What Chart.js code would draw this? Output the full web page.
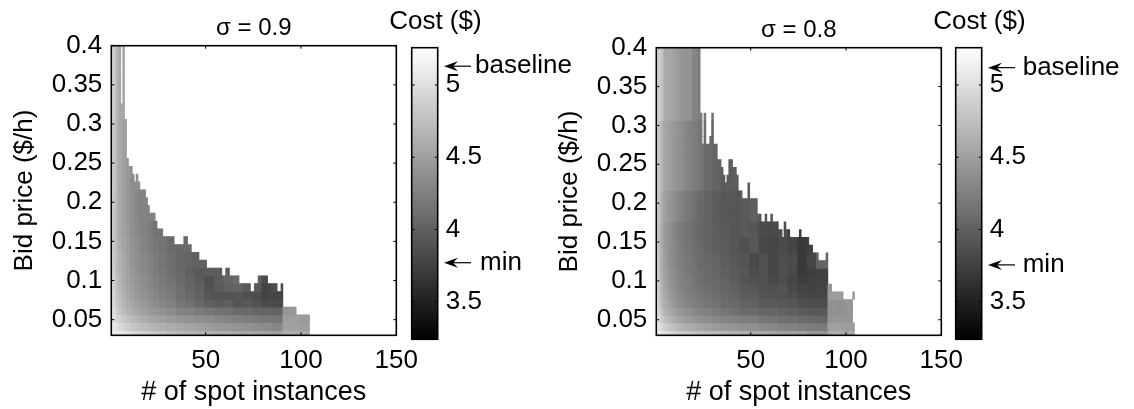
<!DOCTYPE html>
<html>
<head>
<meta charset="utf-8">
<title>Cost heatmaps</title>
<script src="https://cdn.jsdelivr.net/npm/chart.js@4"></script>
<style>
    html, body { margin: 0; padding: 0; background: #fff; overflow: hidden; }
    #page { position: relative; width: 1134px; height: 409px; overflow: hidden; }
    canvas { position: absolute; }
</style>
</head>
<body>
<div id="page">
    <canvas id="heatA"></canvas>
    <canvas id="heatB"></canvas>
    <canvas id="barA"></canvas>
    <canvas id="barB"></canvas>
</div>
<script>
// Axis ticks
const spotTicks = [50, 100, 150];
const bidTicks = [0.05, 0.1, 0.15, 0.2, 0.25, 0.3, 0.35, 0.4];
const costTicks = [3.5, 4, 4.5, 5];
const costRange = [3.24, 5.258];

// Bid price of each heatmap row ($/h)
const bidRows = [0.03, 0.04, 0.05, 0.06, 0.07, 0.08, 0.09, 0.1, 0.11, 0.12, 0.13, 0.14, 0.15, 0.16, 0.17, 0.18, 0.19, 0.2, 0.21,
    0.22, 0.23, 0.24, 0.25, 0.26, 0.27, 0.28, 0.29, 0.3, 0.31, 0.32, 0.33, 0.34, 0.35, 0.36, 0.37, 0.38, 0.39, 0.4];

// Highest bid with a finite cost, for 1, 2, 3... spot instances
const topsA = [0.4, 0.4, 0.4, 0.4, 0.4, 0.32, 0.4, 0.3, 0.25, 0.24, 0.24, 0.23, 0.22, 0.23, 0.22, 0.21, 0.21, 0.21, 0.2, 0.19,
    0.18, 0.18, 0.18, 0.17, 0.16, 0.16, 0.16, 0.15, 0.15, 0.15, 0.15, 0.15, 0.15, 0.14, 0.14, 0.14, 0.14, 0.14, 0.15, 0.15,
    0.14, 0.14, 0.13, 0.13, 0.13, 0.13, 0.12, 0.12, 0.12, 0.12, 0.11, 0.11, 0.11, 0.11, 0.11, 0.11, 0.11, 0.11, 0.1, 0.1,
    0.11, 0.11, 0.1, 0.1, 0.1, 0.1, 0.1, 0.09, 0.09, 0.09, 0.09, 0.09, 0.09, 0.08, 0.08, 0.09, 0.09, 0.1, 0.1, 0.1,
    0.1, 0.1, 0.09, 0.09, 0.09, 0.09, 0.09, 0.08, 0.08, 0.09, 0.06, 0.06, 0.06, 0.06, 0.06, 0.06, 0.06, 0.05, 0.05, 0.05,
    0.05, 0.05, 0.05, 0.05];
const topsB = [0.4, 0.4, 0.4, 0.4, 0.4, 0.4, 0.4, 0.4, 0.4, 0.4, 0.4, 0.4, 0.4, 0.4, 0.4, 0.4, 0.4, 0.4, 0.4, 0.4,
    0.4, 0.4, 0.4, 0.31, 0.27, 0.31, 0.27, 0.27, 0.28, 0.31, 0.27, 0.27, 0.25, 0.25, 0.24, 0.23, 0.22, 0.23, 0.25, 0.25,
    0.24, 0.24, 0.23, 0.21, 0.21, 0.2, 0.2, 0.2, 0.22, 0.2, 0.2, 0.2, 0.2, 0.18, 0.18, 0.17, 0.17, 0.18, 0.17, 0.17,
    0.18, 0.17, 0.17, 0.17, 0.16, 0.16, 0.15, 0.17, 0.16, 0.16, 0.15, 0.15, 0.15, 0.15, 0.15, 0.16, 0.15, 0.15, 0.15, 0.15,
    0.14, 0.14, 0.13, 0.13, 0.13, 0.12, 0.12, 0.12, 0.12, 0.13, 0.09, 0.09, 0.08, 0.08, 0.08, 0.08, 0.08, 0.08, 0.07, 0.07,
    0.07, 0.07, 0.07, 0.08];
// [instances, bid] cells that are missing below the top
const holesB = [[104, 0.05], [104, 0.06], [104, 0.07]];

// Cost table: each row starts at a bid, each column at a number of instances
const costColumns = [1, 2, 3, 4, 5, 7, 9, 11, 13, 15, 17, 20, 23, 26, 30, 35, 40, 45, 50, 55, 60, 65, 70, 75, 80, 85, 91, 95, 100];
const costRowBids = [0.03, 0.04, 0.05, 0.06, 0.07, 0.08, 0.09, 0.1, 0.11, 0.12, 0.14, 0.16, 0.18, 0.22, 0.31];
const costsA = [
    [5.14, 5.12, 5.11, 5.09, 5.08, 5.04, 5.01, 4.98, 4.95, 4.92, 4.89, 4.85, 4.82, 4.79, 4.74, 4.71, 4.68, 4.66, 4.65, 4.62, 4.60, 4.58, 4.57, 4.54, 4.52, 4.49, 4.62, 4.62, 4.60],
    [5.12, 5.08, 5.03, 5.00, 4.96, 4.92, 4.87, 4.82, 4.79, 4.76, 4.73, 4.70, 4.66, 4.63, 4.60, 4.57, 4.54, 4.51, 4.47, 4.44, 4.43, 4.41, 4.39, 4.36, 4.33, 4.31, 4.51, 4.51, 4.49],
    [5.10, 5.03, 4.96, 4.92, 4.87, 4.81, 4.76, 4.71, 4.68, 4.65, 4.62, 4.57, 4.54, 4.51, 4.46, 4.43, 4.39, 4.36, 4.35, 4.31, 4.27, 4.25, 4.23, 4.21, 4.19, 4.17, 4.49, 4.49, 4.47],
    [5.08, 5.00, 4.92, 4.85, 4.79, 4.73, 4.66, 4.62, 4.57, 4.54, 4.51, 4.46, 4.43, 4.39, 4.35, 4.28, 4.25, 4.21, 4.17, 4.15, 4.13, 4.09, 4.07, 4.05, 4.03, 4.02, 4.43, 4.43, 4.43],
    [5.06, 4.96, 4.87, 4.81, 4.74, 4.66, 4.60, 4.55, 4.51, 4.47, 4.44, 4.39, 4.35, 4.31, 4.25, 4.19, 4.13, 4.07, 3.99, 3.97, 3.99, 3.91, 3.94, 3.90, 3.83, 3.83],
    [5.04, 4.93, 4.84, 4.77, 4.71, 4.63, 4.57, 4.51, 4.47, 4.43, 4.39, 4.35, 4.30, 4.25, 4.21, 4.13, 4.07, 4.02, 3.91, 3.91, 3.89, 3.91, 3.87, 3.86, 3.78, 3.79],
    [5.03, 4.92, 4.82, 4.74, 4.68, 4.60, 4.54, 4.49, 4.44, 4.41, 4.36, 4.32, 4.27, 4.23, 4.17, 4.11, 4.03, 3.99, 3.87, 3.95, 3.99, 4.03, 3.95, 3.95, 3.79, 3.83],
    [5.02, 4.90, 4.81, 4.73, 4.66, 4.58, 4.52, 4.47, 4.43, 4.39, 4.35, 4.30, 4.25, 4.21, 4.15, 4.09, 4.02, 3.97, 3.86, 3.97, 4.03, 4.09, 4.03, 3.99, 3.83],
    [5.00, 4.89, 4.79, 4.71, 4.65, 4.57, 4.51, 4.44, 4.41, 4.36, 4.33, 4.28, 4.24, 4.19, 4.13, 4.07, 3.99, 3.95, 3.97],
    [5.00, 4.87, 4.77, 4.70, 4.63, 4.55, 4.49, 4.43, 4.39, 4.35, 4.32, 4.27, 4.22, 4.17, 4.11, 4.06, 4.02],
    [4.98, 4.85, 4.76, 4.68, 4.60, 4.52, 4.47, 4.41, 4.38, 4.33, 4.28, 4.24, 4.19, 4.16, 4.09, 4.06],
    [4.96, 4.84, 4.74, 4.66, 4.58, 4.51, 4.44, 4.39, 4.35, 4.30, 4.27, 4.21, 4.15],
    [4.96, 4.84, 4.73, 4.65, 4.57, 4.49, 4.43, 4.38, 4.33, 4.28],
    [4.96, 4.85, 4.74, 4.65, 4.57, 4.49, 4.43, 4.36],
    [4.98, 4.89, 4.76, 4.66, 4.57]
];
const costsB = [
    [5.14, 5.11, 5.08, 5.04, 5.01, 4.96, 4.92, 4.89, 4.85, 4.82, 4.81, 4.77, 4.74, 4.71, 4.70, 4.68, 4.66, 4.63, 4.58, 4.57, 4.54, 4.52, 4.51, 4.49, 4.44, 4.41, 4.60, 4.60, 4.58],
    [5.12, 5.04, 4.98, 4.92, 4.87, 4.79, 4.74, 4.71, 4.66, 4.63, 4.60, 4.57, 4.54, 4.51, 4.47, 4.44, 4.41, 4.39, 4.36, 4.33, 4.31, 4.28, 4.27, 4.25, 4.22, 4.21, 4.51, 4.51, 4.49],
    [5.10, 5.00, 4.90, 4.82, 4.76, 4.68, 4.62, 4.57, 4.52, 4.49, 4.46, 4.41, 4.38, 4.35, 4.32, 4.28, 4.25, 4.22, 4.21, 4.17, 4.15, 4.13, 4.11, 4.09, 4.06, 4.05, 4.43, 4.43, 4.43],
    [5.08, 4.95, 4.84, 4.74, 4.66, 4.58, 4.52, 4.47, 4.43, 4.39, 4.36, 4.32, 4.28, 4.25, 4.22, 4.17, 4.13, 4.09, 4.07, 4.05, 4.03, 4.02, 3.99, 3.97, 3.94, 3.94, 4.39, 4.39, 4.41],
    [5.08, 4.90, 4.77, 4.68, 4.60, 4.52, 4.44, 4.39, 4.35, 4.32, 4.28, 4.24, 4.21, 4.17, 4.15, 4.09, 4.06, 4.02, 3.99, 3.97, 3.95, 3.94, 3.91, 3.87, 3.86, 3.84, 4.39, 4.39, 4.43],
    [5.06, 4.87, 4.74, 4.65, 4.57, 4.47, 4.41, 4.36, 4.32, 4.28, 4.25, 4.21, 4.17, 4.14, 4.11, 4.06, 4.02, 3.97, 3.95, 3.91, 3.89, 3.89, 3.86, 3.81, 3.79, 3.79, 4.47, 4.47, 4.47],
    [5.04, 4.85, 4.71, 4.62, 4.54, 4.44, 4.38, 4.33, 4.28, 4.25, 4.22, 4.17, 4.14, 4.11, 4.08, 4.03, 3.99, 3.95, 3.92, 3.87, 3.86, 3.91, 3.81, 3.78, 3.76, 3.78, 4.43],
    [5.04, 4.84, 4.70, 4.60, 4.52, 4.43, 4.36, 4.32, 4.27, 4.24, 4.21, 4.16, 4.13, 4.09, 4.06, 4.02, 3.97, 3.91, 3.87, 3.89, 3.81, 3.86, 3.79, 3.73, 3.75, 3.76],
    [5.03, 4.82, 4.68, 4.58, 4.51, 4.41, 4.35, 4.30, 4.25, 4.22, 4.19, 4.15, 4.11, 4.08, 4.05, 4.00, 3.95, 3.94, 3.84, 3.87, 3.79, 3.87, 3.81, 3.71, 3.73, 3.76],
    [5.02, 4.81, 4.66, 4.57, 4.49, 4.39, 4.33, 4.28, 4.24, 4.21, 4.17, 4.13, 4.09, 4.06, 4.03, 3.98, 3.94, 3.91, 3.81, 3.87, 3.78, 3.86, 3.83, 3.70, 3.79, 4.03],
    [5.00, 4.79, 4.65, 4.55, 4.47, 4.38, 4.32, 4.27, 4.22, 4.19, 4.16, 4.11, 4.08, 4.03, 3.99, 3.97, 3.91, 3.87, 3.94, 3.81, 3.79, 3.83, 3.79, 3.70, 3.73, 4.03],
    [4.98, 4.79, 4.65, 4.54, 4.46, 4.38, 4.30, 4.25, 4.21, 4.17, 4.14, 4.09, 4.06, 4.02, 3.98, 3.95, 3.91, 3.95, 3.91, 3.83, 3.81, 3.86, 3.75, 3.71],
    [4.96, 4.80, 4.69, 4.58, 4.50, 4.43, 4.38, 4.32, 4.28, 4.23, 4.18, 4.13, 4.08, 4.02, 3.97, 3.94, 3.91, 3.95, 3.99, 3.94],
    [4.96, 4.82, 4.73, 4.63, 4.55, 4.50, 4.45, 4.41, 4.38, 4.33, 4.27, 4.22, 4.17, 4.09, 4.02, 3.97],
    [4.94, 4.86, 4.82, 4.76, 4.58, 4.57, 4.52, 4.50, 4.44, 4.42, 4.40, 4.28, 4.23, 4.17, 4.15, 4.13]
];

// Marked costs on the colorbars: baseline and min
const baselineCosts = [5.13, 5.12];
const minCosts = [3.77, 3.755];

const FONT = '"Liberation Sans", Arial, sans-serif';
const FONT_SIZE = 26;

// Last entry of a sorted list that is not above the value
function lastIndexNotAbove(list, value) {
    let found = 0;
    list.forEach((item, i) => {
        if (item <= value + 1e-9) found = i;
    });
    return found;
}

// Same scale as the colorbar: lowest cost black, highest white
function costColor(cost) {
    const share = (cost - costRange[0]) / (costRange[1] - costRange[0]);
    const gray = Math.round(Math.max(0, Math.min(1, share)) * 255);
    return `rgb(${gray},${gray},${gray})`;
}

// One floating bar per finite cell
function buildCells(tops, costs, holes) {
    const cells = [];
    const colors = [];
    tops.forEach((top, i) => {
        const spots = i + 1;
        const column = lastIndexNotAbove(costColumns, spots);
        bidRows.forEach(bid => {
            if (bid > top + 1e-9) return;
            if (holes.some(h => h[0] === spots && Math.abs(h[1] - bid) < 1e-9)) return;
            const row = costs[lastIndexNotAbove(costRowBids, bid)];
            cells.push({ x: spots, y: [bid - 0.004, bid + 0.006] });
            colors.push(costColor(row[Math.min(column, row.length - 1)]));
        });
    });
    return { cells, colors };
}

function setTicks(values) {
    return scale => {
        scale.ticks = values.map(value => ({ value }));
    };
}

// Black box with short inward ticks on all sides
const framePlugin = {
    id: 'frame',
    afterDatasetsDraw(chart) {
        const { ctx, chartArea: area, scales } = chart;
        ctx.save();
        ctx.strokeStyle = '#000';
        ctx.lineWidth = 1.6;
        ctx.strokeRect(area.left, area.top, area.width, area.height);
        ctx.lineWidth = 1;
        ctx.beginPath();
        if (scales.x.options.display) {
            scales.x.ticks.forEach(t => {
                const px = scales.x.getPixelForValue(t.value);
                ctx.moveTo(px, area.bottom);
                ctx.lineTo(px, area.bottom - 3);
                ctx.moveTo(px, area.top);
                ctx.lineTo(px, area.top + 3);
            });
        }
        scales.y.ticks.forEach(t => {
            const py = scales.y.getPixelForValue(t.value);
            ctx.moveTo(area.left, py);
            ctx.lineTo(area.left + 3, py);
            ctx.moveTo(area.right, py);
            ctx.lineTo(area.right - 3, py);
        });
        ctx.stroke();
        ctx.restore();
    }
};

// Cost ($) heading and the baseline/min arrows next to a colorbar
const colorbarNotesPlugin = {
    id: 'colorbarNotes',
    afterDraw(chart, args, opts) {
        const { ctx, scales } = chart;
        ctx.save();
        ctx.fillStyle = '#000';
        ctx.strokeStyle = '#000';
        ctx.font = `${FONT_SIZE}px ${FONT}`;
        ctx.textBaseline = 'middle';
        ctx.textAlign = 'center';
        ctx.fillText('Cost ($)', opts.headingX, opts.headingY);
        ctx.textAlign = 'left';
        opts.notes.forEach(note => {
            const py = scales.y.getPixelForValue(note.cost);
            ctx.lineWidth = 1.2;
            ctx.beginPath();
            ctx.moveTo(opts.arrowTip + 8, py);
            ctx.lineTo(opts.arrowTail, py);
            ctx.stroke();
            ctx.beginPath();
            ctx.moveTo(opts.arrowTip, py);
            ctx.lineTo(opts.arrowTip + 14, py - 5);
            ctx.lineTo(opts.arrowTip + 9, py);
            ctx.lineTo(opts.arrowTip + 14, py + 5);
            ctx.closePath();
            ctx.fill();
            ctx.fillText(note.label, note.textX, py);
        });
        ctx.restore();
    }
};

function initHeatChart(id, title, tops, costs, holes, left, top) {
    const canvas = document.getElementById(id);
    canvas.width = 420;
    canvas.height = 409 - top;
    canvas.style.left = left + 'px';
    canvas.style.top = top + 'px';
    const built = buildCells(tops, costs, holes);

    new Chart(canvas.getContext('2d'), {
        type: 'bar',
        data: {
            datasets: [{
                label: title,
                data: built.cells,
                backgroundColor: built.colors,
                borderWidth: 0,
                barPercentage: 1,
                categoryPercentage: 1
            }]
        },
        plugins: [framePlugin],
        options: {
            responsive: false,
            animation: false,
            layout: { padding: { left: 0, right: 23.4, top: 0, bottom: 0 } },
            plugins: {
                legend: { display: false },
                tooltip: { enabled: false },
                title: {
                    display: true,
                    text: title,
                    color: '#000',
                    fullSize: false,
                    font: { family: FONT, size: FONT_SIZE - 2, weight: 'normal' },
                    padding: { top: 14, bottom: 2.9 }
                }
            },
            scales: {
                x: {
                    type: 'linear',
                    min: 0.5,
                    max: 150,
                    offset: false,
                    afterBuildTicks: setTicks(spotTicks),
                    afterFit: scale => { scale.height = 73.7; },
                    grid: { display: false },
                    border: { display: false },
                    ticks: { color: '#000', padding: 2, maxRotation: 0, autoSkip: false, font: { family: FONT, size: FONT_SIZE } },
                    title: {
                        display: true,
                        text: '# of spot instances',
                        color: '#000',
                        font: { family: FONT, size: FONT_SIZE + 1 },
                        padding: { top: 0, bottom: 0 }
                    }
                },
                y: {
                    type: 'linear',
                    min: 0.03,
                    max: 0.4,
                    afterBuildTicks: setTicks(bidTicks),
                    afterFit: scale => { scale.width = 111.3; },
                    grid: { display: false },
                    border: { display: false },
                    ticks: { color: '#000', padding: 1, autoSkip: false, font: { family: FONT, size: FONT_SIZE }, callback: value => String(value) },
                    title: {
                        display: true,
                        text: 'Bid price ($/h)',
                        color: '#000',
                        font: { family: FONT, size: FONT_SIZE },
                        padding: { top: 9, bottom: 0 }
                    }
                }
            }
        }
    });
}

function initColorbar(id, index, left, top, baselineX, minX) {
    const canvas = document.getElementById(id);
    canvas.width = 230;
    canvas.height = 409 - top;
    canvas.style.left = left + 'px';
    canvas.style.top = top + 'px';

    new Chart(canvas.getContext('2d'), {
        type: 'bar',
        data: {
            labels: ['cost'],
            datasets: [{
                data: [costRange],
                borderWidth: 0,
                barPercentage: 1,
                categoryPercentage: 1,
                backgroundColor: context => {
                    const area = context.chart.chartArea;
                    if (!area) return '#888';
                    const gradient = context.chart.ctx.createLinearGradient(0, area.bottom, 0, area.top);
                    gradient.addColorStop(0, costColor(costRange[0]));
                    gradient.addColorStop(1, costColor(costRange[1]));
                    return gradient;
                }
            }]
        },
        plugins: [framePlugin, colorbarNotesPlugin],
        options: {
            responsive: false,
            animation: false,
            layout: { padding: { left: 41.7, right: 102.3, top: 47.7, bottom: 69.7 } },
            plugins: {
                legend: { display: false },
                tooltip: { enabled: false },
                colorbarNotes: {
                    headingX: 65.4,
                    headingY: 22,
                    arrowTip: 74,
                    arrowTail: 101,
                    notes: [
                        { cost: baselineCosts[index], label: 'baseline', textX: baselineX },
                        { cost: minCosts[index], label: 'min', textX: minX }
                    ]
                }
            },
            scales: {
                x: { display: false },
                y: {
                    position: 'right',
                    min: costRange[0],
                    max: costRange[1],
                    afterBuildTicks: setTicks(costTicks),
                    afterFit: scale => { scale.width = 60; },
                    grid: { display: false },
                    border: { display: false },
                    ticks: { color: '#000', padding: 0, autoSkip: false, font: { family: FONT, size: FONT_SIZE }, callback: value => String(value) }
                }
            }
        }
    });
}

document.addEventListener('DOMContentLoaded', function() {
    initHeatChart('heatA', 'σ = 0.9', topsA, costsA, [], 0, 0);
    initHeatChart('heatB', 'σ = 0.8', topsB, costsB, holesB, 545, 2);
    initColorbar('barA', 0, 370, 0, 105, 110);
    initColorbar('barB', 1, 914.3, 0, 108.7, 108.7);
});
</script>
</body>
</html>
